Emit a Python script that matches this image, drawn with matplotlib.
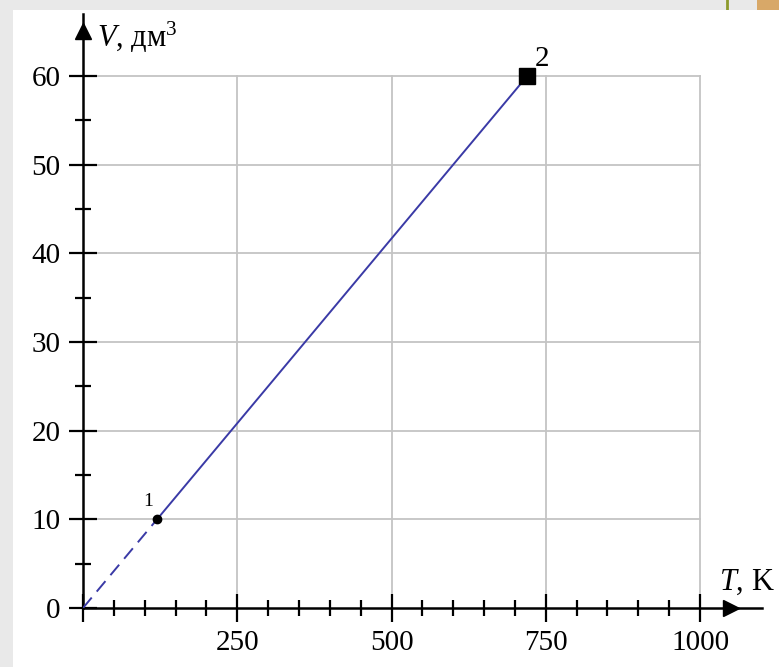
import matplotlib
matplotlib.use("Agg")
import matplotlib.pyplot as plt
from matplotlib.patches import Rectangle
from matplotlib.lines import Line2D
from matplotlib.ticker import FixedLocator

# ---- data ----
T_points = [120, 720]          # K
V_points = [10, 60]            # dm^3
point_labels = ["1", "2"]
x_major = [0, 250, 500, 750, 1000]
x_major_labels = ["", "250", "500", "750", "1000"]
x_minor = [50, 100, 150, 200, 300, 350, 400, 450, 550, 600, 650, 700, 800, 850, 900, 950]
y_major = [0, 10, 20, 30, 40, 50, 60]
y_minor = [5, 15, 25, 35, 45, 55]

plt.rcParams['font.family'] = ['Liberation Serif', 'DejaVu Serif']
plt.rcParams['mathtext.fontset'] = 'custom'
plt.rcParams['mathtext.rm'] = 'Liberation Serif'
plt.rcParams['mathtext.it'] = 'Liberation Serif:italic'

W, H = 779, 667
fig = plt.figure(figsize=(W / 100, H / 100), dpi=100)
fig.patch.set_facecolor('#e9e9e9')
fig.patches.append(Rectangle((13 / W, 0), 1, (H - 10) / H, transform=fig.transFigure,
                             facecolor='white', edgecolor='none', zorder=-10))
fig.patches.append(Rectangle((757 / W, (H - 10) / H), 1, 1, transform=fig.transFigure,
                             facecolor='#d8a868', edgecolor='none', zorder=-10))
fig.lines.append(Line2D([727 / W, 727 / W], [(H - 10) / H, 1], transform=fig.transFigure,
                        color='#8c9a2c', lw=2, zorder=-10))

sx = 617 / 1000.0   # px per K
sy = 532 / 60.0     # px per dm^3
xmax, ymax = 1100, 67
ax = fig.add_axes([83 / W, 59 / H, xmax * sx / W, ymax * sy / H])
ax.set_zorder(5)
ax.set_xlim(0, xmax)
ax.set_ylim(0, ymax)
ax.patch.set_alpha(0)

for s in ['top', 'right']:
    ax.spines[s].set_visible(False)
for s in ['left', 'bottom']:
    ax.spines[s].set_linewidth(1.8)
    ax.spines[s].set_color('black')

# grid bounded to 1000 x 60
for xv in x_major[1:]:
    ax.plot([xv, xv], [0, y_major[-1]], color='#c4c4c4', lw=1.3, zorder=1)
for yv in y_major[1:]:
    ax.plot([0, x_major[-1]], [yv, yv], color='#c4c4c4', lw=1.3, zorder=1)

ax.xaxis.set_major_locator(FixedLocator(x_major))
ax.xaxis.set_minor_locator(FixedLocator(x_minor))
ax.set_xticklabels(x_major_labels)
ax.yaxis.set_major_locator(FixedLocator(y_major))
ax.yaxis.set_minor_locator(FixedLocator(y_minor))
ax.set_yticklabels([str(v) for v in y_major])

ax.tick_params(axis='both', which='major', direction='inout', length=20, width=1.6,
               labelsize=21, colors='black')
ax.tick_params(axis='both', which='minor', direction='inout', length=11, width=1.6)
ax.tick_params(axis='x', which='major', pad=6)
ax.tick_params(axis='y', which='major', pad=6)

# arrows
ax.plot([xmax * 0.955], [0], marker='>', color='black', markersize=11, clip_on=False, zorder=5)
ax.plot([0], [ymax * 0.972], marker='^', color='black', markersize=11, clip_on=False, zorder=5)

# process line
line_color = '#3a3aa6'
ax.plot([0, T_points[0]], [0, V_points[0]], color=line_color, lw=1.4, ls=(0, (7, 4)), zorder=3)
ax.plot(T_points, V_points, color=line_color, lw=1.4, zorder=3)
ax.plot([T_points[0]], [V_points[0]], 'o', color='black', markersize=6, zorder=4)
ax.plot([T_points[1]], [V_points[1]], 's', color='black', markersize=11, zorder=4)

ax.text(T_points[0] - 15, V_points[0] + 1.0, point_labels[0], fontsize=14, ha='center', va='bottom')
ax.text(T_points[1] + 24, V_points[1] + 0.5, point_labels[1], fontsize=21, ha='center', va='bottom')

ax.text(22, 63.3, r"$\it{V}$, дм$^3$", fontsize=22, ha='left', va='baseline')
ax.text(1030, 2.0, r"$\it{T}$, K", fontsize=22, ha='left', va='baseline', clip_on=False)

fig.savefig('out.png', dpi=100, facecolor=fig.get_facecolor())
